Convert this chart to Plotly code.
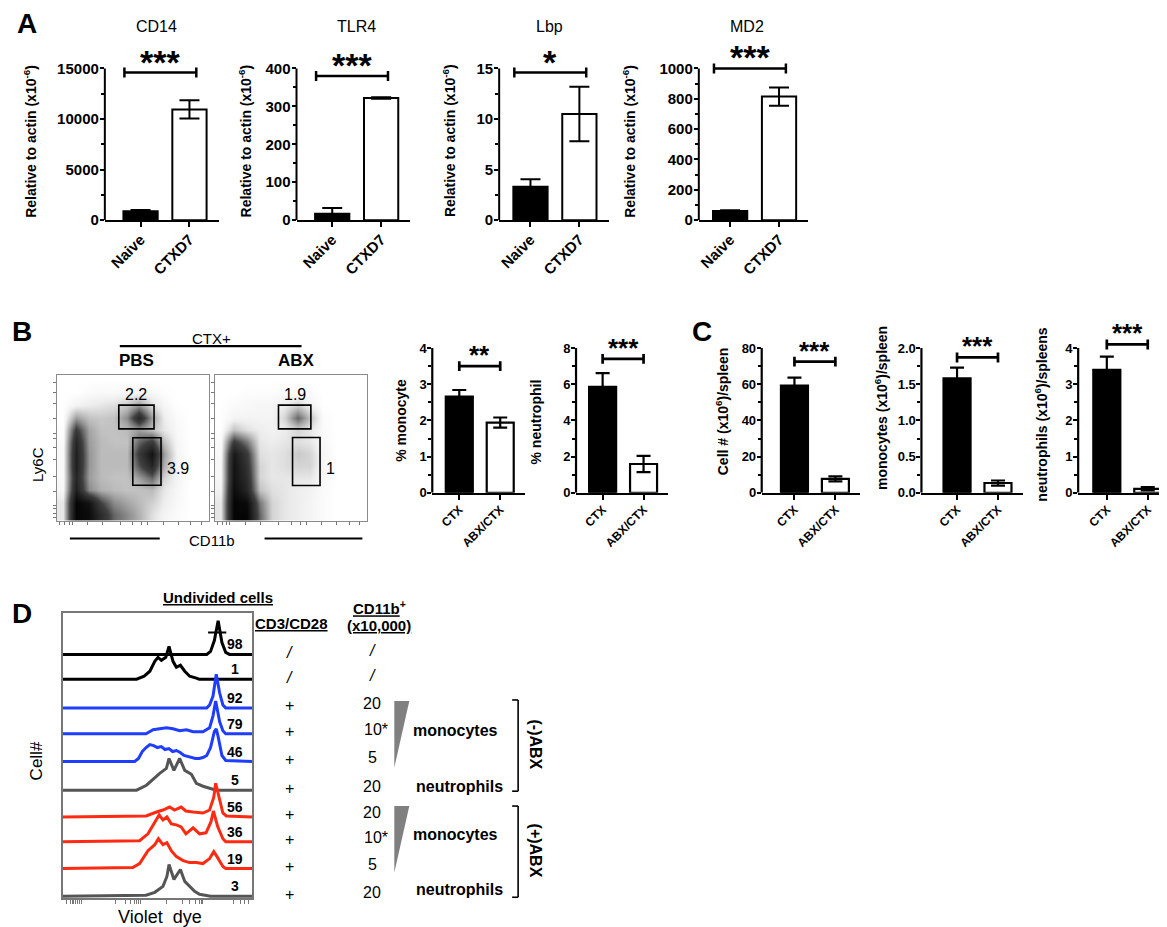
import plotly.graph_objects as go

W, H = 1167, 927
FONT = "Arial, Liberation Sans, sans-serif"

# ---------------- data ----------------
# Panel A: expression relative to actin (x10^-6)
a_genes = ["CD14", "TLR4", "Lbp", "MD2"]
a_groups = ["Naive", "CTXD7"]
a_means = [[890, 10950], [17, 322], [3.3, 10.5], [60, 815]]
a_errs = [[110, 900], [15, 2], [0.75, 2.7], [6, 60]]
a_ymax = [15000, 400, 15, 1000]
a_dtick = [5000, 100, 5, 200]
a_stars = ["***", "***", "*", "***"]
a_bracket = [14600, 380, 14.6, 1000]

# Panel B: % of spleen cells
b_groups = ["CTX", "ABX/CTX"]
b_titles = ["% monocyte", "% neutrophil"]
b_means = [[2.66, 1.94], [5.85, 1.59]]
b_errs = [[0.18, 0.14], [0.76, 0.45]]
b_ymax = [4, 8]
b_dtick = [1, 2]
b_stars = ["**", "***"]
b_bracket = [3.5, 7.4]

# Panel C: cell numbers per spleen
c_titles = ["Cell # (x10<sup>6</sup>)/spleen", "monocytes (x10<sup>6</sup>)/spleen",
            "neutrophils (x10<sup>6</sup>)/spleens"]
c_means = [[59.3, 7.7], [1.58, 0.135], [3.4, 0.11]]
c_errs = [[4.4, 1.4], [0.15, 0.035], [0.36, 0.045]]
c_ymax = [80, 2.0, 4]
c_dtick = [20, 0.5, 1]
c_stars = ["***", "***", "***"]
c_bracket = [72.5, 1.87, 4.1]

# Panel B flow plots: coarse density (rows bottom -> top)
flow_bins = [(i + 0.5) / 12 for i in range(12)]
flow_pbs = [
    [0.1, 1.0, 0.95, 0.7, 0.45, 0.35, 0.25, 0.12, 0.05, 0.02, 0, 0],
    [0.1, 1.0, 0.9, 0.55, 0.35, 0.28, 0.22, 0.16, 0.08, 0.03, 0, 0],
    [0.04, 0.8, 0.35, 0.25, 0.22, 0.2, 0.2, 0.22, 0.1, 0.04, 0, 0],
    [0.03, 0.75, 0.3, 0.22, 0.2, 0.2, 0.3, 0.45, 0.15, 0.05, 0, 0],
    [0.03, 0.8, 0.32, 0.22, 0.22, 0.22, 0.5, 0.75, 0.25, 0.05, 0, 0],
    [0.03, 0.8, 0.32, 0.22, 0.22, 0.22, 0.6, 0.9, 0.3, 0.05, 0, 0],
    [0.02, 0.75, 0.3, 0.22, 0.2, 0.2, 0.45, 0.6, 0.2, 0.04, 0, 0],
    [0.01, 0.6, 0.28, 0.2, 0.2, 0.22, 0.3, 0.2, 0.1, 0.03, 0, 0],
    [0, 0.3, 0.2, 0.18, 0.2, 0.35, 0.75, 0.3, 0.08, 0.02, 0, 0],
    [0, 0.05, 0.08, 0.1, 0.12, 0.18, 0.3, 0.12, 0.04, 0, 0, 0],
    [0, 0, 0.02, 0.03, 0.03, 0.04, 0.05, 0.03, 0.01, 0, 0, 0],
    [0, 0, 0, 0, 0, 0, 0, 0, 0, 0, 0, 0],
]
flow_abx = [
    [0.1, 1.0, 1.0, 0.45, 0.15, 0.1, 0.08, 0.05, 0.02, 0, 0, 0],
    [0.1, 1.0, 0.95, 0.4, 0.15, 0.1, 0.08, 0.05, 0.02, 0, 0, 0],
    [0.06, 0.95, 0.75, 0.2, 0.12, 0.1, 0.08, 0.06, 0.02, 0, 0, 0],
    [0.04, 0.9, 0.7, 0.15, 0.1, 0.1, 0.1, 0.1, 0.03, 0, 0, 0],
    [0.04, 0.9, 0.65, 0.15, 0.1, 0.12, 0.15, 0.15, 0.04, 0, 0, 0],
    [0.03, 0.85, 0.6, 0.12, 0.1, 0.12, 0.18, 0.15, 0.04, 0, 0, 0],
    [0.02, 0.6, 0.4, 0.1, 0.08, 0.1, 0.12, 0.1, 0.03, 0, 0, 0],
    [0, 0.2, 0.12, 0.08, 0.06, 0.08, 0.15, 0.1, 0.02, 0, 0, 0],
    [0, 0.05, 0.05, 0.05, 0.05, 0.15, 0.45, 0.2, 0.02, 0, 0, 0],
    [0, 0.02, 0.03, 0.04, 0.04, 0.08, 0.15, 0.06, 0, 0, 0, 0],
    [0, 0, 0.01, 0.01, 0.01, 0.02, 0.02, 0.01, 0, 0, 0, 0],
    [0, 0, 0, 0, 0, 0, 0, 0, 0, 0, 0, 0],
]
# gates: x0, x1, y0, y1 in plot fractions
gates_pbs = [[0.408, 0.640, 0.629, 0.792], [0.50, 0.686, 0.242, 0.568]]
gates_abx = [[0.418, 0.630, 0.629, 0.792], [0.51, 0.690, 0.240, 0.570]]
gate_pct_pbs = ["2.2", "3.9"]
gate_pct_abx = ["1.9", "1"]

# Panel D: violet dye dilution histograms (x: % of axis, h: px above baseline)
d_x = [
    [0, 76, 78, 80, 82, 84, 86, 88, 100],
    [0, 39, 43, 46, 48.6, 50.3, 52.1, 54.4, 56.1, 58.2, 60, 62.1, 64.4, 67, 70.5, 72, 100],
    [0, 76, 77.5, 79.3, 81, 82.8, 84.5, 86, 100],
    [0, 44, 47.7, 51.2, 54.7, 58.2, 61.7, 65.3, 68.8, 74, 77.5, 79.3, 80.7, 82.8, 84.5, 86, 100],
    [0, 38, 40, 42, 44, 46, 48, 50, 52, 54, 56, 58, 60, 62, 64, 66, 68, 70, 72, 74, 76, 78,
     80, 81, 82, 84, 86, 100],
    [0, 39, 44.2, 48.6, 51.2, 54.7, 56.1, 58.7, 61.7, 64.4, 67.9, 70.5, 74, 77.5, 81, 100],
    [0, 44, 49.5, 52.9, 56.4, 59, 62.5, 65, 68.8, 74, 77.5, 79.7, 80.7, 82.5, 84.5, 86.3, 100],
    [0, 40.6, 45, 48.6, 50.9, 52.9, 55, 57.3, 60, 62.5, 65, 68.8, 72.2, 75.6, 78.2, 79.5, 81.8,
     84.5, 86, 100],
    [0, 37, 40.6, 45, 48.6, 50.5, 52.9, 55, 57.3, 60, 63.5, 67, 70.5, 74, 77.5, 79.7, 81.4,
     84.5, 86, 100],
    [0, 44, 48.6, 52.9, 55, 56.1, 58.7, 60.8, 62.1, 64.4, 67, 69.6, 72.2, 75.6, 78, 100],
]
d_h = [
    [0, 0, 3, 14, 34, 12, 2, 0, 0],
    [0, 0, 3, 8, 18, 22, 19, 22, 33, 18, 12, 14, 8, 3, 1, 0, 0],
    [0, 0, 3, 12, 34, 15, 3, 0, 0],
    [0, 0, 4, 5, 6, 5, 3, 4, 2, 2, 6, 18, 33, 12, 3, 0, 0],
    [0, 0, 3, 10, 14, 17, 16, 14, 15, 12, 13, 10, 11, 9, 6, 5, 4, 3, 3, 4, 6, 14, 30, 33, 25,
     6, 1, 0],
    [0, 0, 5, 13, 17, 22, 32, 20, 32, 20, 16, 7, 4, 2, 0, 0],
    [0, 1, 5, 7, 10, 7, 10, 6, 5, 4, 7, 20, 34, 20, 4, 1, 0],
    [0, 1, 8, 20, 27, 22, 25, 18, 17, 15, 8, 14, 8, 9, 20, 31, 15, 3, 0, 0],
    [0, 1, 5, 18, 24, 30, 24, 26, 18, 12, 8, 6, 6, 5, 10, 17, 12, 2, 0, 0],
    [0, 1, 4, 10, 20, 32, 17, 24, 27, 15, 10, 5, 2, 1, 0, 0],
]
d_offsets = [246, 221, 192, 166, 138, 109, 82, 57, 30, 2]
d_pct = ["98", "1", "92", "79", "46", "5", "56", "36", "19", "3"]
d_cd3 = ["/", "/", "+", "+", "+", "+", "+", "+", "+", "+"]
d_cd11b = ["/", "/", "20", "10*", "5", "20", "20", "10*", "5", "20"]
d_colors = ["#000000", "#000000", "#1f3dff", "#1f3dff", "#1f3dff", "#555555",
            "#ff2a12", "#ff2a12", "#ff2a12", "#555555"]

# ---------------- figure ----------------
fig = go.Figure()
layout = dict(width=W, height=H, margin=dict(l=0, r=0, t=0, b=0),
              paper_bgcolor="white", plot_bgcolor="rgba(0,0,0,0)", showlegend=False,
              font=dict(family=FONT, color="black"))
shapes, annos = [], []


def P(x, y):
    return x / W, 1 - y / H


def text(x, y, s, size=14, bold=False, angle=0, xanchor="center"):
    px, py = P(x, y)
    annos.append(dict(xref="paper", yref="paper", x=px, y=py, text=s, showarrow=False,
                      xanchor=xanchor, yanchor="middle", textangle=angle,
                      xshift=-10 if angle < 0 else 0,
                      font=dict(size=size, weight="bold" if bold else "normal")))


def pline(x0, y0, x1, y1, w=2.0, color="black"):
    a, b = P(x0, y0)
    c, d = P(x1, y1)
    shapes.append(dict(type="line", xref="paper", yref="paper", x0=a, y0=b, x1=c, y1=d,
                       line=dict(color=color, width=w)))


def bar_panel(n, groups, means, errs, ymax, dtick, stars, by, bx, left, xlo, unit,
              ytop, ybot, bw, cap, lw, tsize, xtsize, ssize, sshift):
    ax = "" if n == 1 else str(n)
    xhi = 1.6
    ext = 1.16
    right = left + (xhi - xlo) * unit
    top = ybot - (ybot - ytop) * ext
    fig.add_trace(go.Bar(
        x=[0, 1], y=means, width=bw,
        marker=dict(color=["black", "white"], line=dict(color="black", width=lw)),
        error_y=dict(type="data", array=errs, color="black", thickness=lw, width=cap),
        xaxis="x" + ax, yaxis="y" + ax, hoverinfo="skip"))
    majors = [k * dtick for k in range(int(round(ymax / dtick)) + 1)]
    minors = [v + dtick / 2 for v in majors[:-1]]
    labels = [f"{v:.1f}" if dtick < 1 else f"{v:g}" for v in majors]
    layout["xaxis" + ax] = dict(
        domain=[left / W, right / W], range=[xlo, xhi], anchor="y" + ax,
        tickvals=[0, 1], ticktext=groups, tickangle=-45, ticks="outside", ticklen=5,
        tickwidth=lw, tickcolor="black", showline=True, linewidth=lw, linecolor="black",
        showgrid=False, zeroline=False, ticklabelstandoff=-2,
        tickfont=dict(size=xtsize, weight="bold"))
    layout["yaxis" + ax] = dict(
        domain=[1 - ybot / H, 1 - top / H], range=[0, ymax * ext], anchor="x" + ax,
        tickvals=majors, ticktext=labels, ticks="outside", ticklen=4, tickwidth=lw,
        tickcolor="black", showline=False, showgrid=False, zeroline=False,
        ticklabelstandoff=-2, tickfont=dict(size=tsize, weight="bold"),
        minor=dict(tickvals=minors, ticks="outside", ticklen=3, tickwidth=lw,
                   tickcolor="black"))
    shapes.append(dict(type="line", xref="x" + ax + " domain", yref="y" + ax,
                       x0=0, x1=0, y0=0, y1=ymax, line=dict(color="black", width=lw)))
    d = ymax * ext * 5 / (ybot - top)
    for seg in [(bx[0], by, bx[1], by), (bx[0], by - d, bx[0], by + d),
                (bx[1], by - d, bx[1], by + d)]:
        shapes.append(dict(type="line", xref="x" + ax, yref="y" + ax, x0=seg[0], y0=seg[1],
                           x1=seg[2], y1=seg[3], line=dict(color="black", width=lw + 0.5)))
    annos.append(dict(xref="x" + ax, yref="y" + ax, x=(bx[0] + bx[1]) / 2, y=by, text=stars,
                      showarrow=False, yanchor="bottom", yshift=sshift,
                      font=dict(size=ssize, weight="bold")))


# Panel A
a_left = [95, 287, 490, 690]
a_xlo = [-0.73, -0.73, -0.64, -0.64]
a_title_x = [147, 347, 540, 738]
a_ylab_x = [30, 245, 450, 630]
for i in range(4):
    bar_panel(i + 1, a_groups, a_means[i], a_errs[i], a_ymax[i], a_dtick[i], a_stars[i],
              a_bracket[i], (-0.33, 1.14), a_left[i], a_xlo[i], 49, 61, 214, 0.7, 10, 2,
              15, 15, 34, -10)
    text(a_title_x[i], 19, a_genes[i], size=16)
    text(a_ylab_x[i], 134, "Relative to actin (x10<sup>-6</sup>)", size=14, bold=True,
         angle=-90)

# Panel B bars
b_left = [423, 567]
b_xlo = [-0.66, -0.65]
b_ylab = [(402, 416), (537, 418)]
for i in range(2):
    bar_panel(5 + i, b_groups, b_means[i], b_errs[i], b_ymax[i], b_dtick[i], b_stars[i],
              b_bracket[i], (0, 1), b_left[i], b_xlo[i], 41, 343, 489, 0.66, 7, 2.2,
              13, 12, 26, -6)
    text(b_ylab[i][0], b_ylab[i][1], b_titles[i], size=14, bold=True, angle=-90)

# Panel C bars
c_left = [753, 913, 1070]
c_xlo = [-0.8, -0.87, -0.7]
c_ylab = [(724, 407), (882, 403), (1043, 410)]
for i in range(3):
    bar_panel(7 + i, b_groups, c_means[i], c_errs[i], c_ymax[i], c_dtick[i], c_stars[i],
              c_bracket[i], (0, 1), c_left[i], c_xlo[i], 41, 343, 489, 0.66, 7, 2.2,
              13, 12, 26, -6)
    text(c_ylab[i][0], c_ylab[i][1], c_titles[i], size=14, bold=True, angle=-90)

# Panel B flow plots
gray = [[0, "#ffffff"], [0.08, "#eeeeee"], [0.25, "#b0b0b0"], [0.55, "#404040"],
        [1, "#050505"]]
flow_ticks = [0.02, 0.05, 0.08, 0.1, 0.2, 0.3, 0.42, 0.5, 0.56, 0.6, 0.7, 0.8, 0.88, 0.95]
for n, z, gates, pct, (x0, x1) in [(10, flow_pbs, gates_pbs, gate_pct_pbs, (47, 199)),
                                   (11, flow_abx, gates_abx, gate_pct_abx, (205, 358))]:
    ax = str(n)
    fig.add_trace(go.Heatmap(z=z, x=flow_bins, y=flow_bins, colorscale=gray, zmin=0, zmax=1,
                             zsmooth="best", showscale=False, xaxis="x" + ax,
                             yaxis="y" + ax, hoverinfo="skip"))
    common = dict(range=[0, 1], showline=True, mirror=True, linecolor="#8a8a8a",
                  linewidth=1.2, showgrid=False, zeroline=False, showticklabels=False,
                  ticks="outside", ticklen=3, tickcolor="#777777", tickvals=flow_ticks)
    layout["xaxis" + ax] = dict(domain=[x0 / W, x1 / W], anchor="y" + ax, **common)
    layout["yaxis" + ax] = dict(domain=[1 - 517 / H, 1 - 370 / H], anchor="x" + ax, **common)
    for g in gates:
        shapes.append(dict(type="rect", xref="x" + ax, yref="y" + ax, x0=g[0], x1=g[1],
                           y0=g[2], y1=g[3], line=dict(color="black", width=1.6)))
    annos.append(dict(xref="x" + ax, yref="y" + ax, x=(gates[0][0] + gates[0][1]) / 2,
                      y=gates[0][3], yanchor="bottom", text=pct[0], showarrow=False,
                      font=dict(size=16)))
    annos.append(dict(xref="x" + ax, yref="y" + ax, x=gates[1][1], xanchor="left",
                      y=(gates[1][2] + gates[1][3]) / 2 - 0.05, text=pct[1],
                      showarrow=False, xshift=4, font=dict(size=16)))

text(202, 333, "CTX+", size=15)
pline(110, 341, 292, 341, w=2.2)
text(127, 356, "PBS", size=17, bold=True)
text(287, 356, "ABX", size=17, bold=True)
text(37, 460, "Ly6C", size=15, angle=-90)
text(202, 537, "CD11b", size=15)
pline(60, 535, 150, 535, w=2)
pline(255, 535, 353, 535, w=2)

# Panel D histograms
for i in range(10):
    fig.add_trace(go.Scatter(x=d_x[i], y=[d_offsets[i] + v for v in d_h[i]], mode="lines",
                             line=dict(color=d_colors[i], width=3), xaxis="x12",
                             yaxis="y12", hoverinfo="skip"))
    annos.append(dict(xref="x12", yref="y12", x=91, y=d_offsets[i] + 10, text=d_pct[i],
                      showarrow=False, font=dict(size=14, weight="bold")))
    text(280, 898 - d_offsets[i] - 2, "<i>/</i>" if d_cd3[i] == "/" else d_cd3[i], size=16)
    lab = d_cd11b[i]
    text(367 if lab == "10*" else 363, 898 - d_offsets[i] - 4,
         "<i>/</i>" if lab == "/" else lab, size=16)
shapes.append(dict(type="line", xref="x12", yref="y12", x0=76.7, x1=86.3,
                   y0=d_offsets[0] + 22, y1=d_offsets[0] + 22, line=dict(color="black", width=2)))
d_ticks = [2, 4, 5, 6, 7, 8, 9, 10, 28, 33, 36, 38, 39, 40, 41, 55, 63, 67, 70, 72, 73, 74,
           90, 94, 96, 98]
layout["xaxis12"] = dict(domain=[52.7 / W, 242.7 / W], range=[0, 100], anchor="y12",
                         showline=True, mirror=True, linecolor="#777777", linewidth=1.5,
                         showgrid=False, zeroline=False, showticklabels=False,
                         ticks="outside", ticklen=4, tickcolor="#777777", tickvals=d_ticks)
layout["yaxis12"] = dict(domain=[1 - 898 / H, 1 - 610 / H], range=[0, 288], anchor="x12",
                         showline=True, mirror=True, linecolor="#777777", linewidth=1.5,
                         showgrid=False, zeroline=False, showticklabels=False, ticks="")

text(208, 595, "<u>Undivided cells</u>", size=15, bold=True)
text(282, 621, "<u>CD3/CD28</u>", size=15, bold=True)
text(370, 605, "<u>CD11b</u><sup>+</sup>", size=15, bold=True)
text(370, 623, "<u>(x10,000)</u>", size=15, bold=True)
text(37, 759, "Cell#", size=17, angle=-90)
text(150, 917, "Violet  dye", size=18)
for y0, y1, ym, yn in [(699, 766, 729, 785), (805, 872, 834, 889)]:
    a, b = P(385, y0)
    c, _ = P(400, y0)
    _, d = P(385, y1)
    shapes.append(dict(type="path", xref="paper", yref="paper",
                       path=f"M {a} {b} L {c} {b} L {a} {d} Z",
                       fillcolor="#808080", line=dict(width=0)))
    text(446, ym, "monocytes", size=16, bold=True)
    text(450, yn, "neutrophils", size=16, bold=True)
for y0, y1, lab, ym in [(698, 790, "(-)ABX", 743), (805, 897, "(+)ABX", 850)]:
    pline(509, y0, 509, y1, w=1.6)
    pline(503, y0, 509, y0, w=1.6)
    pline(503, y1, 509, y1, w=1.6)
    text(526, ym, lab, size=16, bold=True, angle=90)

# panel letters
text(17, 16, "A", size=28, bold=True)
text(12, 326, "B", size=28, bold=True)
text(693, 326, "C", size=28, bold=True)
text(12, 611, "D", size=28, bold=True)

layout["shapes"] = shapes
layout["annotations"] = annos
fig.update_layout(**layout)
fig.write_html("out.html")
